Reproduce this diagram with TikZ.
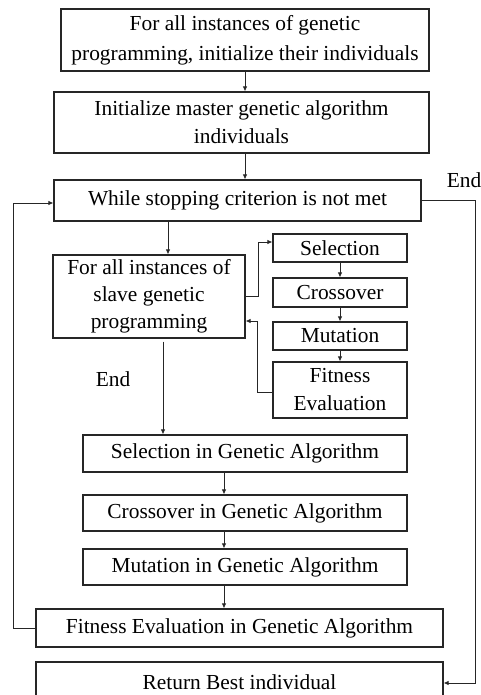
\documentclass[tikz,border=0pt]{standalone}
\usepackage{fontspec}
\setmainfont{Liberation Serif}
\usetikzlibrary{arrows.meta}
\begin{document}
\begin{tikzpicture}[x=1pt,y=-1pt,
  box/.style={draw=black!85,line width=1.2pt,rectangle,inner sep=0pt,align=center,
    font=\fontsize{21.4}{28}\selectfont},
  conn/.style={draw=black!85,line width=0.8pt},
  arr/.style={conn,-{Latex[length=5pt,width=4.5pt]}},
  lbl/.style={inner sep=0pt,font=\fontsize{21.4}{28}\selectfont}]
\useasboundingbox (0,0) rectangle (481,695);
\clip (0,0) rectangle (481,695);
\fill[white] (0,0) rectangle (481,695);
\node[box,minimum width=368,minimum height=62,font=\fontsize{21.4}{30}\selectfont] (b1) at (245,40)
  {For all instances of genetic\\programming, initialize their individuals};
\node[box,minimum width=375,minimum height=61] (b2) at (241.5,122.5)
  {Initialize master genetic algorithm\\individuals};
\node[box,minimum width=367,minimum height=41] (b3) at (237.5,200.5)
  {While stopping criterion is not met};
\node[box,minimum width=192,minimum height=83,font=\fontsize{21.4}{27}\selectfont] (b4) at (149,296.5)
  {For all instances of\\slave genetic\\programming};
\node[box,minimum width=134,minimum height=28] (sel) at (340,248) {Selection};
\node[box,minimum width=134,minimum height=29] (cro) at (340,292.5) {Crossover};
\node[box,minimum width=134,minimum height=28] (mut) at (340,336) {Mutation};
\node[box,minimum width=134,minimum height=56] (fit) at (340,390) {Fitness\\Evaluation};
\node[box,minimum width=324,minimum height=37] (sga) at (245,453.5) {Selection in Genetic Algorithm};
\node[box,minimum width=324,minimum height=36] (cga) at (245,513) {Crossover in Genetic Algorithm};
\node[box,minimum width=324,minimum height=36] (mga) at (245,567) {Mutation in Genetic Algorithm};
\node[box,minimum width=407,minimum height=38] (fga) at (239.5,628) {Fitness Evaluation in Genetic Algorithm};
\node[box,minimum width=407,minimum height=40] (ret) at (239.5,682) {Return Best individual};
\node[lbl] (end1) at (464,180) {End};
\node[lbl] (end2) at (113,379) {End};
\coordinate (xa) at (245,0);
\coordinate (xb) at (168,0);
\coordinate (xc) at (163,0);
\coordinate (xd) at (224,0);
\draw[arr] (b1.south -| xa) -- (b2.north -| xa);
\draw[arr] (b2.south -| xa) -- (b3.north -| xa);
\draw[arr] (b3.south -| xb) -- (b4.north -| xb);
\draw[arr] (b4.east) -- ++(13,0) |- ([yshift=6pt]sel.west);
\draw[arr] (fit.west) ++(0,2) -- ++(-15,0) |- ([yshift=-24.5pt]b4.east);
\draw[arr] (sel.south) -- (cro.north);
\draw[arr] (cro.south) -- (mut.north);
\draw[arr] (mut.south) -- (fit.north);
\draw[arr] ([yshift=-3pt]b4.south -| xc) -- (sga.north -| xc);
\draw[arr] (sga.south -| xd) -- (cga.north -| xd);
\draw[arr] (cga.south -| xd) -- (mga.north -| xd);
\draw[arr] (mga.south -| xd) -- (fga.north -| xd);
\draw[arr] (fga.west) -- ++(-22,0) |- ([yshift=-2.5pt]b3.west);
\draw[arr] (b3.east) -- ++(54,0) |- ([yshift=-1pt]ret.east);
\end{tikzpicture}
\end{document}
